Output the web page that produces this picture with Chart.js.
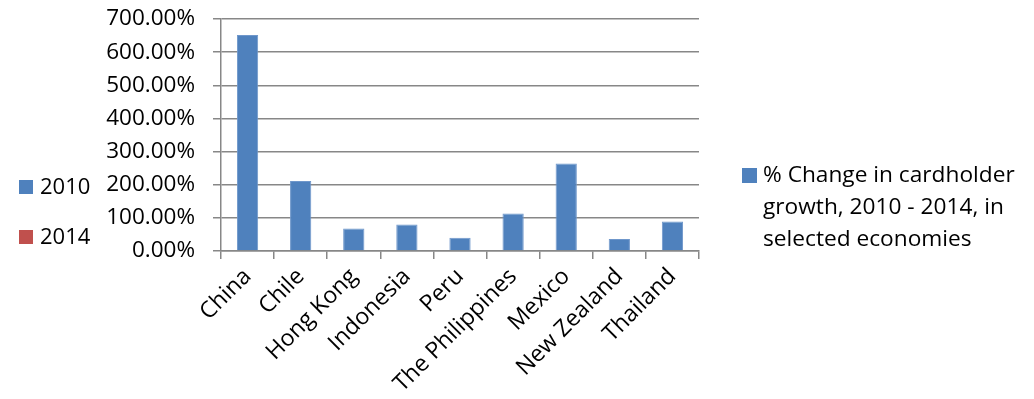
<!DOCTYPE html>
<html lang="en">
<head>
  <meta charset="UTF-8" />
  <title>Cardholder growth</title>
  <script src="https://cdn.jsdelivr.net/npm/chart.js"></script>
  <style>
    body { margin: 0; background: #fff; }
    #wrap { position: relative; width: 1034px; height: 399px; }
  </style>
</head>
<body>
  <div id="wrap"><canvas id="growthChart" width="1034" height="399"></canvas></div>
  <script>
    // Data
    const economies = ['China', 'Chile', 'Hong Kong', 'Indonesia', 'Peru',
      'The Philippines', 'Mexico', 'New Zealand', 'Thailand'];
    const changePct = [652, 211, 68, 80, 40, 113, 264, 36, 89];
    const yTickValues = [0, 100, 200, 300, 400, 500, 600, 700];
    const seriesName = '% Change in cardholder growth, 2010 - 2014, in selected economies';
    const seriesLines = ['% Change in cardholder', 'growth, 2010 - 2014, in', 'selected economies'];
    const yearLabels = ['2010', '2014'];
    const yearColors = ['#4F81BD', '#C0504D'];

    const FONT = '"Open Sans", sans-serif';
    const axisGray = '#878787';

    // legends drawn by hand: the year key on the left and the series key on the right
    const sideLegends = {
      id: 'sideLegends',
      afterDraw(chart) {
        const ctx = chart.ctx;
        ctx.save();
        ctx.textBaseline = 'middle';
        ctx.textAlign = 'left';
        ctx.font = '22px ' + FONT;
        yearLabels.forEach((y, i) => {
          const cy = 187 + i * 50;
          ctx.fillStyle = yearColors[i];
          ctx.fillRect(19, cy - 7, 14, 14);
          ctx.fillStyle = '#000';
          ctx.fillText(y, 40, cy + 1);
        });
        ctx.font = '22.7px ' + FONT;
        ctx.fillStyle = '#4F81BD';
        ctx.fillRect(742, 168, 15, 15);
        ctx.fillStyle = '#000';
        seriesLines.forEach((line, i) => {
          ctx.fillText(line, 763, 176 + i * 32);
        });
        ctx.restore();
      }
    };

    new Chart(document.getElementById('growthChart'), {
      type: 'bar',
      data: {
        labels: economies,
        datasets: [{
          label: seriesName,
          data: changePct,
          backgroundColor: '#4F81BD',
          borderColor: '#6F97CB',
          borderWidth: 1,
          barPercentage: 0.4,
          categoryPercentage: 1
        }]
      },
      options: {
        responsive: false,
        animation: false,
        layout: { padding: { top: 19, right: 335, left: 0, bottom: 0 } },
        plugins: { legend: { display: false }, tooltip: { enabled: false } },
        scales: {
          x: {
            offset: true,
            grid: { offset: true, drawOnChartArea: false, color: axisGray, lineWidth: 1.5, tickLength: 8 },
            border: { color: axisGray, width: 1.5 },
            ticks: {
              color: '#000',
              font: { family: FONT, size: 23 },
              minRotation: 45,
              maxRotation: 45,
              padding: 4
            },
            afterFit(scale) {
              scale.height = 148;
              scale.paddingLeft = 0;
              scale.paddingRight = 0;
            }
          },
          y: {
            min: 0,
            max: 700,
            afterBuildTicks(scale) { scale.ticks = yTickValues.map(v => ({ value: v })); },
            grid: { color: axisGray, lineWidth: 1.5, tickLength: 8 },
            border: { color: axisGray, width: 1.5 },
            ticks: {
              color: '#000',
              font: { family: FONT, size: 22.5 },
              padding: 18,
              callback: v => v.toFixed(2) + '%'
            },
            afterFit(scale) {
              scale.width = 221;
              scale.paddingTop = 0;
              scale.paddingBottom = 0;
            }
          }
        }
      },
      plugins: [sideLegends]
    });
  </script>
</body>
</html>
